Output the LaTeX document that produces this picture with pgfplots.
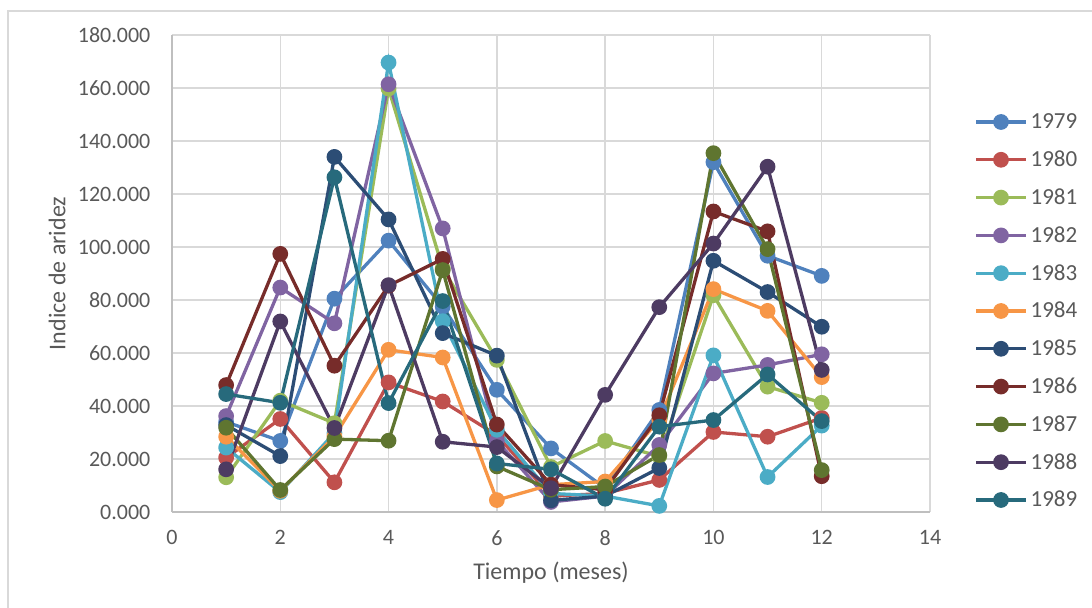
\documentclass[border=0pt]{standalone}
\usepackage{fontspec}
\setmainfont{Carlito}
\usepackage{pgfplots}
\pgfplotsset{compat=1.18}
\definecolor{c79}{HTML}{4F81BD}
\definecolor{c80}{HTML}{C0504D}
\definecolor{c81}{HTML}{9BBB59}
\definecolor{c82}{HTML}{8064A2}
\definecolor{c83}{HTML}{4BACC6}
\definecolor{c84}{HTML}{F79646}
\definecolor{c85}{HTML}{2C4D75}
\definecolor{c86}{HTML}{772C2A}
\definecolor{c87}{HTML}{5F7530}
\definecolor{c88}{HTML}{4D3B62}
\definecolor{c89}{HTML}{276A7C}
\definecolor{gridgray}{HTML}{D9D9D9}
\definecolor{axisgray}{HTML}{BFBFBF}
\definecolor{textgray}{HTML}{595959}
\begin{document}
\begin{tikzpicture}
\useasboundingbox (-86pt,-48pt) rectangle (460pt,256pt);
\draw[color=gridgray, line width=0.75pt] (-82pt,-48pt) -- (-82pt,250.5pt) -- (460pt,250.5pt);
\begin{axis}[
  scale only axis, width=379pt, height=238.5pt,
  xmin=0, xmax=14, ymin=0, ymax=180,
  xtick={0,2,...,14}, ytick={0,20,...,180},
  grid=major, grid style={color=gridgray, line width=0.75pt},
  axis x line=bottom, axis y line=left,
  axis line style={-, color=axisgray, line width=0.75pt},
  major tick length=0pt,
  /pgf/number format/assume math mode=true,
  yticklabel style={/pgf/number format/fixed, /pgf/number format/fixed zerofill, /pgf/number format/precision=3, /pgf/number format/use period, /pgf/number format/1000 sep={}},
  ticklabel style={font=\fontsize{11}{13}\selectfont, text=textgray},
  xticklabel style={yshift=-5.8pt},
  yticklabel style={xshift=-7.3pt},
  xlabel={Tiempo (meses)}, ylabel={Indice de aridez},
  xlabel style={at={(axis description cs:0.5,-0.1279)}, anchor=center, font=\fontsize{12}{14}\selectfont, text=textgray},
  ylabel style={at={(axis description cs:-0.1517,0.5)}, anchor=center, font=\fontsize{12}{14}\selectfont, text=textgray},
  every axis plot/.append style={line width=1.65pt, mark=*, mark size=3.1pt, mark options={solid}},
  legend cell align=left,
  legend style={at={(axis description cs:1.058,0.4214)}, anchor=west, draw=none, fill=none,
    font=\fontsize{11.5}{13}\selectfont, text=textgray, inner sep=0pt, row sep=7.9pt, column sep=0.5pt,
    nodes={inner sep=1pt, text height=8pt, text depth=1pt}},
  legend image code/.code={\draw[mark repeat=2, mark phase=2, #1] plot coordinates {(0pt,0pt) (12.5pt,0pt) (25pt,0pt)};},
]
\addplot[color=c79] coordinates {(1,34) (2,26.8) (3,80.5) (4,102.4) (5,77.5) (6,46.1) (7,24) (8,9) (9,38.5) (10,132) (11,96.7) (12,89.1)};
\addplot[color=c80] coordinates {(1,20.5) (2,35.1) (3,11.2) (4,48.9) (5,41.7) (6,29) (7,6) (8,7) (9,12.1) (10,30.2) (11,28.4) (12,35.5)};
\addplot[color=c81] coordinates {(1,13.1) (2,42) (3,33.5) (4,159.8) (5,92) (6,57.4) (7,17) (8,26.8) (9,21) (10,81.8) (11,47.3) (12,41.2)};
\addplot[color=c82] coordinates {(1,36.2) (2,84.7) (3,71.2) (4,161.4) (5,107) (6,26.8) (7,3.8) (8,6) (9,25.3) (10,52.3) (11,55.5) (12,59.5)};
\addplot[color=c83] coordinates {(1,24.3) (2,7.5) (3,29.8) (4,169.6) (5,72) (6,31) (7,7) (8,6) (9,2.3) (10,59.1) (11,13.2) (12,32.6)};
\addplot[color=c84] coordinates {(1,28.4) (2,8) (3,28.5) (4,61.2) (5,58.3) (6,4.5) (7,10.3) (8,11.5) (9,34.8) (10,84.1) (11,75.9) (12,50.9)};
\addplot[color=c85] coordinates {(1,32.8) (2,21.1) (3,134) (4,110.4) (5,67.5) (6,59) (7,4.4) (8,6) (9,16.6) (10,94.8) (11,83) (12,69.9)};
\addplot[color=c86] coordinates {(1,47.9) (2,97.4) (3,55.2) (4,85.4) (5,95.5) (6,33) (7,10.3) (8,8.4) (9,36.5) (10,113.4) (11,105.9) (12,13.5)};
\addplot[color=c87] coordinates {(1,31.8) (2,8.3) (3,27.5) (4,26.9) (5,91.3) (6,17.2) (7,8.4) (8,9.6) (9,21.5) (10,135.4) (11,99.2) (12,15.8)};
\addplot[color=c88] coordinates {(1,16.1) (2,71.9) (3,31.7) (4,85.6) (5,26.5) (6,24.5) (7,9) (8,44.2) (9,77.3) (10,101.3) (11,130.3) (12,53.6)};
\addplot[color=c89] coordinates {(1,44.5) (2,41.2) (3,126.3) (4,41.1) (5,79.6) (6,18.3) (7,16.1) (8,5) (9,32.2) (10,34.7) (11,51.9) (12,34.3)};
\legend{1979,1980,1981,1982,1983,1984,1985,1986,1987,1988,1989}
\end{axis}
\end{tikzpicture}
\end{document}
